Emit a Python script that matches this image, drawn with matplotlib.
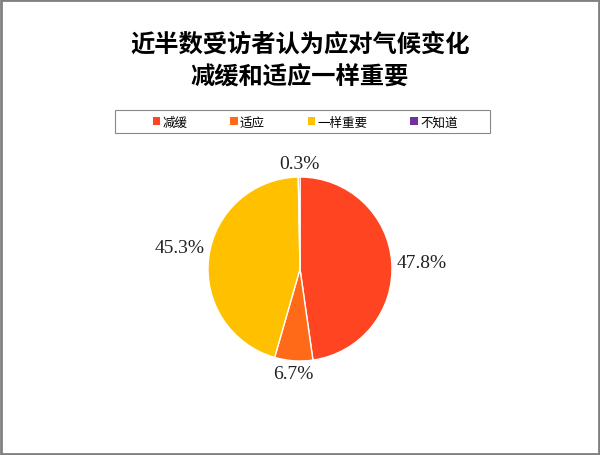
import numpy as np
import matplotlib.pyplot as plt
from matplotlib.patches import Rectangle

plt.rcParams['font.family'] = ['Noto Sans CJK SC', 'DejaVu Sans']

# data
categories = ['减缓', '适应', '一样重要', '不知道']
shares = [47.8, 6.7, 45.3, 0.3]
pct_labels = ['47.8%', '6.7%', '45.3%', '0.3%']
colors = ['#FF4422', '#FF6A18', '#FFC000', '#7030A0']

fig = plt.figure(figsize=(6.0, 4.56), dpi=100)

# outer frame of the chart area
fig.patches.append(Rectangle((0.002, 0.003), 0.996, 0.994, transform=fig.transFigure,
                             fill=False, edgecolor='#808080', linewidth=2))

fig.text(0.5, 1 - 45 / 456, '近半数受访者认为应对气候变化', ha='center', va='center',
         fontsize=17.5, fontweight='bold')
fig.text(0.5, 1 - 78 / 456, '减缓和适应一样重要', ha='center', va='center',
         fontsize=17.5, fontweight='bold')

# pie axes: centre (300, 270) px, radius ~92 px
r_px = 92
ax = fig.add_axes([(300 - r_px) / 600, (456 - 270 - r_px) / 456, 2 * r_px / 600, 2 * r_px / 456])
wedges, _ = ax.pie(shares, colors=colors, startangle=90, counterclock=False,
                   wedgeprops=dict(edgecolor='white', linewidth=1.0))
ax.set_xlim(-1, 1)
ax.set_ylim(-1, 1)
ax.set_aspect('equal')
ax.axis('off')

for w, lab in zip(wedges, pct_labels):
    ang = np.deg2rad((w.theta1 + w.theta2) / 2)
    c, s = np.cos(ang), np.sin(ang)
    ha = 'left' if c > 0.3 else ('right' if c < -0.3 else 'center')
    va = 'bottom' if s > 0.1 else ('top' if s < -0.3 else 'center')
    ax.text(1.05 * c, 1.05 * s, lab, ha=ha, va=va, fontsize=14,
            family='Liberation Serif', color='#222222', clip_on=False)

# legend box (wider than its entries, as in the original)
fig.patches.append(Rectangle((115 / 600, 1 - 134 / 456), 375 / 600, 23 / 456,
                             transform=fig.transFigure, fill=False,
                             edgecolor='#888888', linewidth=0.8))
leg = fig.legend(wedges, categories, loc='center', bbox_to_anchor=(305 / 600, 1 - 123 / 456),
                 ncol=4, fontsize=9, frameon=False,
                 handlelength=0.6, handleheight=0.6, handletextpad=0.2, columnspacing=3.4,
                 borderpad=0.2)
for h in leg.legend_handles:
    h.set_edgecolor('none')

fig.savefig('out.png', dpi=100)
